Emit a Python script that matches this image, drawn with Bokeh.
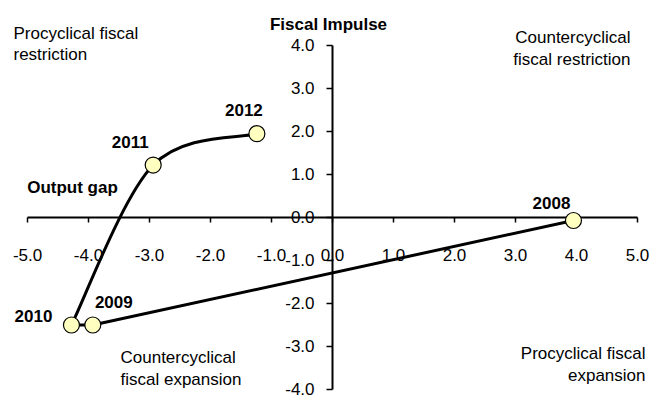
from bokeh.plotting import figure
from bokeh.models import FixedTicker, NumeralTickFormatter, Label, ColumnDataSource
from bokeh.core.properties import value
from bokeh.embed import file_html
from bokeh.resources import INLINE

# ---- data ----
years = ["2008", "2009", "2010", "2011", "2012"]
output_gap = [3.95, -3.93, -4.28, -2.94, -1.24]
fiscal_impulse = [-0.07, -2.50, -2.50, 1.22, 1.95]
x_ticks = [-5, -4, -3, -2, -1, 0, 1, 2, 3, 4, 5]
y_ticks = [-4, -3, -2, -1, 0, 1, 2, 3, 4]

# ---- styles ----
FONT = "Liberation Sans"
label_dx = [-22, 21, -38, -23, -13]
label_dy = [-18, -23, -9, -23, -24]

p = figure(width=650, height=399, x_range=(-5.443, 5.213), y_range=(-4.2326, 5.0465),
           output_backend="svg", toolbar_location=None, min_border=0)
p.grid.visible = False
p.outline_line_color = None
p.background_fill_color = "white"

for ax, ticks, bnds in ((p.xaxis, x_ticks, (-5, 5)), (p.yaxis, y_ticks, (-4, 4))):
    ax.fixed_location = 0
    ax.bounds = bnds
    ax.ticker = FixedTicker(ticks=ticks)
    ax.formatter = NumeralTickFormatter(format="0.0")
    ax.minor_tick_line_color = None
    ax.axis_line_width = 2
    ax.axis_line_color = "black"
    ax.major_tick_line_width = 1.5
    ax.major_tick_line_color = "black"
    ax.major_tick_in = 0
    ax.major_label_text_font = FONT
    ax.major_label_text_font_size = "17px"
    ax.major_label_text_color = "black"

p.xaxis.major_tick_out = 5
p.xaxis.major_label_standoff = 27
p.yaxis.major_tick_out = 6
p.yaxis.major_label_standoff = 12

# straight part: 2008 -> 2009 -> 2010
p.line(output_gap[:3], fiscal_impulse[:3], line_color="black", line_width=3, level="overlay")

# smoothed part: 2010 -> 2011 -> 2012 (Catmull-Rom converted to cubic Bezier)
sx = output_gap[2:]
sy = fiscal_impulse[2:]
n = len(sx)
bx0, by0, bx1, by1, c0x, c0y, c1x, c1y = [], [], [], [], [], [], [], []
for i in range(n - 1):
    pm = max(i - 1, 0)
    pn = min(i + 2, n - 1)
    bx0.append(sx[i]); by0.append(sy[i])
    bx1.append(sx[i + 1]); by1.append(sy[i + 1])
    c0x.append(sx[i] + (sx[i + 1] - sx[pm]) / 6.0)
    c0y.append(sy[i] + (sy[i + 1] - sy[pm]) / 6.0)
    c1x.append(sx[i + 1] - (sx[pn] - sx[i]) / 6.0)
    c1y.append(sy[i + 1] - (sy[pn] - sy[i]) / 6.0)
p.bezier(x0=bx0, y0=by0, x1=bx1, y1=by1, cx0=c0x, cy0=c0y, cx1=c1x, cy1=c1y,
         line_color="black", line_width=3, level="overlay")

src = ColumnDataSource(dict(x=output_gap, y=fiscal_impulse, t=years, dx=label_dx, dy=label_dy))
p.scatter("x", "y", source=src, size=16, fill_color="#FFFFC0", line_color="black",
          line_width=1.2, level="overlay")
p.text("x", "y", text="t", source=src, x_offset="dx", y_offset="dy",
       text_font=value(FONT), text_font_style="bold", text_font_size="17px",
       text_align="center", text_baseline="middle", text_color="black", level="overlay")

def lab(text, x, y, align, bold=False):
    p.add_layout(Label(x=x, y=y, x_units="screen", y_units="screen", text=text,
                       text_font=FONT, text_font_size="17px", text_align=align,
                       text_baseline="middle", text_color="black",
                       text_font_style="bold" if bold else "normal"))

lab("Procyclical fiscal", 13, 366, "left")
lab("restriction", 13, 345, "left")
lab("Countercyclical", 630, 362, "right")
lab("fiscal restriction", 630, 340, "right")
lab("Countercyclical", 120, 42, "left")
lab("fiscal expansion", 120, 20, "left")
lab("Procyclical fiscal", 645, 46, "right")
lab("expansion", 645, 24, "right")
lab("Fiscal Impulse", 328, 375, "center", bold=True)
lab("Output gap", 72, 212, "center", bold=True)

open("out.html", "w").write(file_html(p, INLINE))
